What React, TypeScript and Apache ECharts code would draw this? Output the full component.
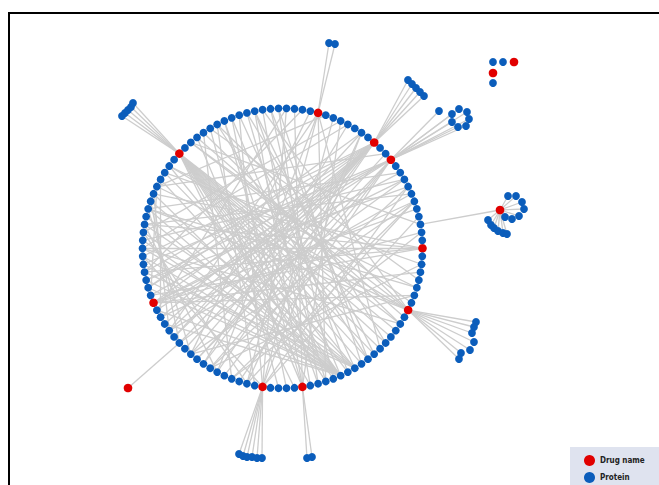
import React, { useEffect, useRef } from "react";
import * as echarts from "echarts";

// ---- Network data ----
const RING_COUNT = 110;
const ringDrugIdx = [0, 12, 15, 23, 42, 62, 80, 85, 102];

// chords inside the ring: [hub index, target indices]
const chords: [number, number[]][] = [
  [42, [84, 86, 88, 89, 90, 91, 92, 93, 94, 95, 96, 97, 98, 99, 100]],
  [15, [56, 58, 60, 62, 64, 65, 66, 67, 68, 69, 70, 72, 74]],
  [12, [57, 59, 61, 63, 71, 73, 75, 77]],
  [23, [66, 74, 78, 88, 96]],
  [0, [48, 52, 55, 58, 61]],
  [102, [30, 36, 40, 44, 47, 50]],
  [85, [20, 26, 31, 35, 39]],
  [80, [4, 8, 17, 21, 27, 33]],
  [62, [2, 5, 9, 104, 107]],
  [90, [44, 46, 48, 50, 51, 53, 54, 56, 57, 59, 60, 63, 65]],
  [92, [45, 49, 52, 55, 58]],
  [28, [87, 93]],
  [29, [89, 94]],
  [30, [86]],
  [31, [91, 95]],
  [32, [88, 97]],
  [33, [92]],
  [34, [83, 90]],
  [35, [87]],
  [36, [79, 94]],
  [37, [82, 106]],
  [38, [76, 100]],
  [6, [64, 70, 76]],
  [7, [52, 66]],
  [8, [59, 73]],
  [9, [54, 68]],
  [10, [50, 62]],
  [13, [47, 71]],
  [17, [60, 67, 78]],
  [19, [55, 72]],
  [46, [64]],
  [48, [66]],
  [50, [70]],
  [52, [74]],
  [47, [61]],
  [49, [68]],
  [53, [78]],
  [56, [80]],
  [40, [103]],
  [44, [105]],
  [39, [101]],
  [25, [58]],
  [27, [63]],
  [20, [53]],
  [22, [47]],
  [24, [70]],
  [70, [104]],
  [73, [108]],
  [76, [2]],
  [78, [6]],
  [100, [55]],
  [105, [50]],
  [108, [45]],
  [3, [40]],
];

// outer clusters of proteins attached to a ring drug
const clusterTopLeft = [[122, 116], [125, 113], [128, 110], [131, 107], [133, 103]];
const clusterTop = [[329, 43], [335, 44]];
const clusterUpperRight = [[408, 80], [412, 84], [416, 88], [420, 92], [424, 96]];
const clusterRingRight = [[439, 111], [459, 109], [467, 112], [469, 119], [466, 126], [458, 127], [452, 122], [452, 114]];
const clusterLowerRight = [[476, 322], [474, 327], [472, 333], [474, 342], [470, 350], [461, 353], [459, 359]];
const clusterBottom = [[239, 454], [243, 456], [247, 457], [252, 457], [257, 458], [262, 458]];
const clusterBottom2 = [[307, 458], [312, 457]];
const clusterHubs = [42, 23, 15, 12, 102, 80, 85];

// outer drug with its own proteins, linked to ring node 3
const outerDrugRight = [500, 210];
const outerDrugRightRingLink = 3;
const clusterAroundOuterDrug = [
  [508, 196], [516, 196], [522, 202], [524, 209], [519, 216], [512, 219], [505, 217],
  [488, 220], [491, 225], [494, 228], [498, 231], [503, 233], [507, 234],
];
// outer drug lower-left, linked to ring node 68
const outerDrugLeft = [128, 388];
const outerDrugLeftRingLink = 68;

// isolated small component (top right)
const isolatedProteins = [[493, 62], [503, 62], [493, 83]];
const isolatedDrugs = [[514, 62], [493, 73]];

const categories = ["Drug name", "Protein"];

// ---- layout constants ----
const CX = 282.5;
const CY = 248.3;
const RADIUS = 140;
const BLUE = "#0b5dbb";
const RED = "#e10000";
const P_SIZE = 7.8;
const D_SIZE = 8.6;

function ringPoint(i: number) {
  const a = (i * 2 * Math.PI) / RING_COUNT;
  return [CX + RADIUS * Math.cos(a), CY - RADIUS * Math.sin(a)];
}

export default function App() {
  const ref = useRef<HTMLDivElement>(null);

  useEffect(() => {
    if (!ref.current) return;
    const chart = echarts.init(ref.current, null, { renderer: "svg" });

    const nodes: any[] = [];
    const links: any[] = [];
    const drugSet = new Set(ringDrugIdx);
    const ringName = (i: number) => `ring${i}`;

    for (let i = 0; i < RING_COUNT; i++) {
      const isDrug = drugSet.has(i);
      nodes.push({
        name: ringName(i),
        value: ringPoint(i),
        category: isDrug ? 0 : 1,
        symbolSize: isDrug ? D_SIZE : P_SIZE,
      });
    }
    chords.forEach(([h, ts]) => {
      ts.forEach((t) => links.push({ source: ringName(h), target: ringName(t) }));
    });

    const clusters = [clusterTopLeft, clusterTop, clusterUpperRight, clusterRingRight, clusterLowerRight, clusterBottom, clusterBottom2];
    clusters.forEach((cl, ci) => {
      cl.forEach((p, pi) => {
        const name = `c${ci}_${pi}`;
        nodes.push({ name, value: p, category: 1, symbolSize: P_SIZE });
        links.push({ source: ringName(clusterHubs[ci]), target: name });
      });
    });

    nodes.push({ name: "outerDrugRight", value: outerDrugRight, category: 0, symbolSize: D_SIZE });
    links.push({ source: "outerDrugRight", target: ringName(outerDrugRightRingLink) });
    clusterAroundOuterDrug.forEach((p, pi) => {
      const name = `od_${pi}`;
      nodes.push({ name, value: p, category: 1, symbolSize: P_SIZE });
      links.push({ source: "outerDrugRight", target: name });
    });

    nodes.push({ name: "outerDrugLeft", value: outerDrugLeft, category: 0, symbolSize: D_SIZE });
    links.push({ source: "outerDrugLeft", target: ringName(outerDrugLeftRingLink) });

    isolatedProteins.forEach((p, pi) => nodes.push({ name: `ip_${pi}`, value: p, category: 1, symbolSize: P_SIZE }));
    isolatedDrugs.forEach((p, pi) => nodes.push({ name: `id_${pi}`, value: p, category: 0, symbolSize: D_SIZE }));

    chart.setOption({
      animation: false,
      backgroundColor: "#ffffff",
      grid: { left: 0, right: 0, top: 0, bottom: 0 },
      xAxis: { type: "value", min: 0, max: 659, show: false },
      yAxis: { type: "value", min: 0, max: 485, inverse: true, show: false },
      legend: {
        data: categories,
        orient: "vertical",
        left: 570,
        top: 447,
        width: 120,
        height: 80,
        icon: "circle",
        itemWidth: 11,
        itemHeight: 11,
        itemGap: 6,
        padding: [8, 40, 12, 14],
        backgroundColor: "#dfe3ef",
        textStyle: {
          fontSize: 8,
          fontWeight: "bold",
          color: "#222222",
          fontFamily: "'Liberation Sans Narrow', 'DejaVu Sans Condensed', sans-serif",
        },
      },
      graphic: [
        {
          type: "rect",
          shape: { x: 9, y: 13, width: 700, height: 500 },
          style: { fill: "none", stroke: "#000000", lineWidth: 2 },
          z: 100,
        },
      ],
      series: [
        {
          type: "graph",
          coordinateSystem: "cartesian2d",
          xAxisIndex: 0,
          yAxisIndex: 0,
          layout: "none",
          categories: [
            { name: categories[0], itemStyle: { color: RED } },
            { name: categories[1], itemStyle: { color: BLUE } },
          ],
          data: nodes,
          links,
          symbol: "circle",
          label: { show: false },
          lineStyle: { color: "#cdcdcd", width: 1.3, opacity: 1, curveness: 0 },
          emphasis: { disabled: true },
        },
      ],
    });

    return () => chart.dispose();
  }, []);

  return (
    <div
      ref={ref}
      style={{ position: "fixed", left: 0, top: 0, width: 659, height: 485 }}
    />
  );
}
